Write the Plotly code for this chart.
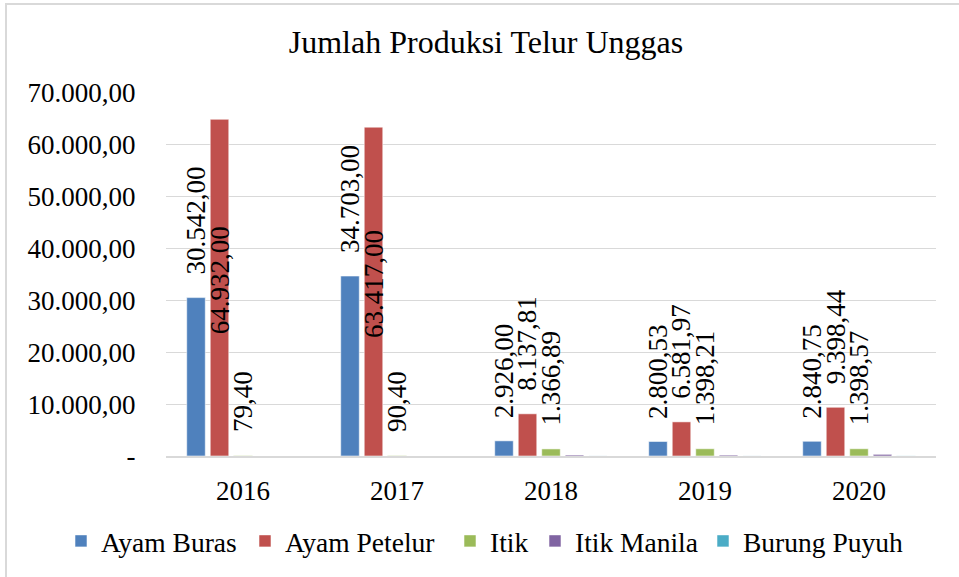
import plotly.graph_objects as go

# Egg production by poultry type, 2016-2020
years = ["2016", "2017", "2018", "2019", "2020"]
series_names = ["Ayam Buras", "Ayam Petelur", "Itik", "Itik Manila", "Burung Puyuh"]
ayam_buras = [30542.00, 34703.00, 2926.00, 2800.53, 2840.75]
ayam_petelur = [64932.00, 63417.00, 8137.81, 6581.97, 9398.44]
itik = [79.40, 90.40, 1366.89, 1398.21, 1398.57]
itik_manila = [0, 0, 190, 180, 320]
burung_puyuh = [0, 0, 20, 20, 25]

y_tickvals = [0, 10000, 20000, 30000, 40000, 50000, 60000, 70000]
y_ticktext = ["-", "10.000,00", "20.000,00", "30.000,00", "40.000,00",
              "50.000,00", "60.000,00", "70.000,00"]

all_series = [ayam_buras, ayam_petelur, itik, itik_manila, burung_puyuh]
colors = ["#4F81BD", "#C0504D", "#9BBB59", "#8064A2", "#4BACC6"]
labelled = 3  # only the first three series carry value labels

W, H = 959, 577
ML, MR, MT, MB = 166, 23, 93, 121
PW, PH = W - ML - MR, H - MT - MB
YMAX = 70000
BARGAP, GROUPGAP = 0.237, 0.21
FONT = "Liberation Serif"
FS = 27
LEGEND_FS = 27.5
# left edge of each legend entry's text, in pixels, and the row's centre line
legend_text_x = [101, 285, 490, 575, 743]
LEGEND_Y = 541


def fmt_id(v):
    s = f"{v:,.2f}"
    return s.replace(",", "#").replace(".", ",").replace("#", ".")


fig = go.Figure()
for k, (name, vals, col) in enumerate(zip(series_names, all_series, colors)):
    fig.add_trace(go.Bar(
        x=years, y=vals, name=name, showlegend=True,
        legend=f"legend{k + 2}",
        marker=dict(color=col, line=dict(color="rgba(255,255,255,0.55)", width=1)),
    ))

# rotated value labels above each bar (centred in the bar when there is no room)
slot = PW / len(years) * (1 - BARGAP) / len(all_series)
annotations = []
for i in range(labelled):
    offset = (i - (len(all_series) - 1) / 2) * slot
    for j, v in enumerate(all_series[i]):
        txt = fmt_id(v)
        bar_px = v / YMAX * PH
        text_px = FS * 0.46 * len(txt)
        common = dict(x=j, xref="x", yref="y", xshift=offset, text=txt, textangle=-90,
                      showarrow=False, xanchor="center",
                      font=dict(family=FONT, size=FS, color="#000"))
        if bar_px + 24 + text_px > PH:
            annotations.append(dict(y=v / 2, yshift=8, yanchor="middle", **common))
        else:
            annotations.append(dict(y=v, yshift=21, yanchor="bottom", **common))


def px_x(p):
    return (p - ML) / PW


def px_y(p):
    return (H - MB - p) / PH


# light frame along the top and left edges
shapes = [
    dict(type="line", xref="paper", yref="paper", x0=px_x(6), x1=px_x(6),
         y0=px_y(3), y1=px_y(H + 5), line=dict(color="#D9D9D9", width=2)),
    dict(type="line", xref="paper", yref="paper", x0=px_x(5), x1=px_x(W + 5),
         y0=px_y(4), y1=px_y(4), line=dict(color="#D9D9D9", width=2)),
]

# one single-entry legend per series so each entry sits at its own spot on the row
legends = {}
for k, tx in enumerate(legend_text_x):
    legends[f"legend{k + 2}"] = dict(
        orientation="h", xref="container", yref="container",
        x=(tx - 40) / W, xanchor="left",
        y=1 - LEGEND_Y / H, yanchor="middle",
        font=dict(family=FONT, size=LEGEND_FS, color="#000"),
        itemwidth=30, bgcolor="rgba(0,0,0,0)")

fig.update_layout(
    width=W, height=H,
    margin=dict(l=ML, r=MR, t=MT, b=MB, autoexpand=False),
    paper_bgcolor="white", plot_bgcolor="white",
    showlegend=True,
    barmode="group", bargap=BARGAP, bargroupgap=GROUPGAP,
    font=dict(family=FONT, size=FS, color="#000"),
    title=dict(text="Jumlah Produksi Telur Unggas", font=dict(family=FONT, size=32, color="#000"),
               x=486 / W, xanchor="center",
               y=1 - 42 / H, yanchor="middle"),
    xaxis=dict(type="category", range=[-0.5, len(years) - 0.5], autorange=False,
               showgrid=False, showline=True, linecolor="#D9D9D9",
               linewidth=2, ticks="outside", ticklen=10, tickcolor="rgba(0,0,0,0)",
               tickfont=dict(family=FONT, size=FS, color="#000")),
    yaxis=dict(range=[0, YMAX], autorange=False, tickvals=y_tickvals, ticktext=y_ticktext,
               showgrid=True, gridcolor="#D9D9D9", gridwidth=1.3, zeroline=False,
               showline=False, ticks="outside", ticklen=24, tickcolor="rgba(0,0,0,0)",
               tickfont=dict(family=FONT, size=FS, color="#000")),
    annotations=annotations,
    shapes=shapes,
    **legends,
)

fig.write_html("out.html")
